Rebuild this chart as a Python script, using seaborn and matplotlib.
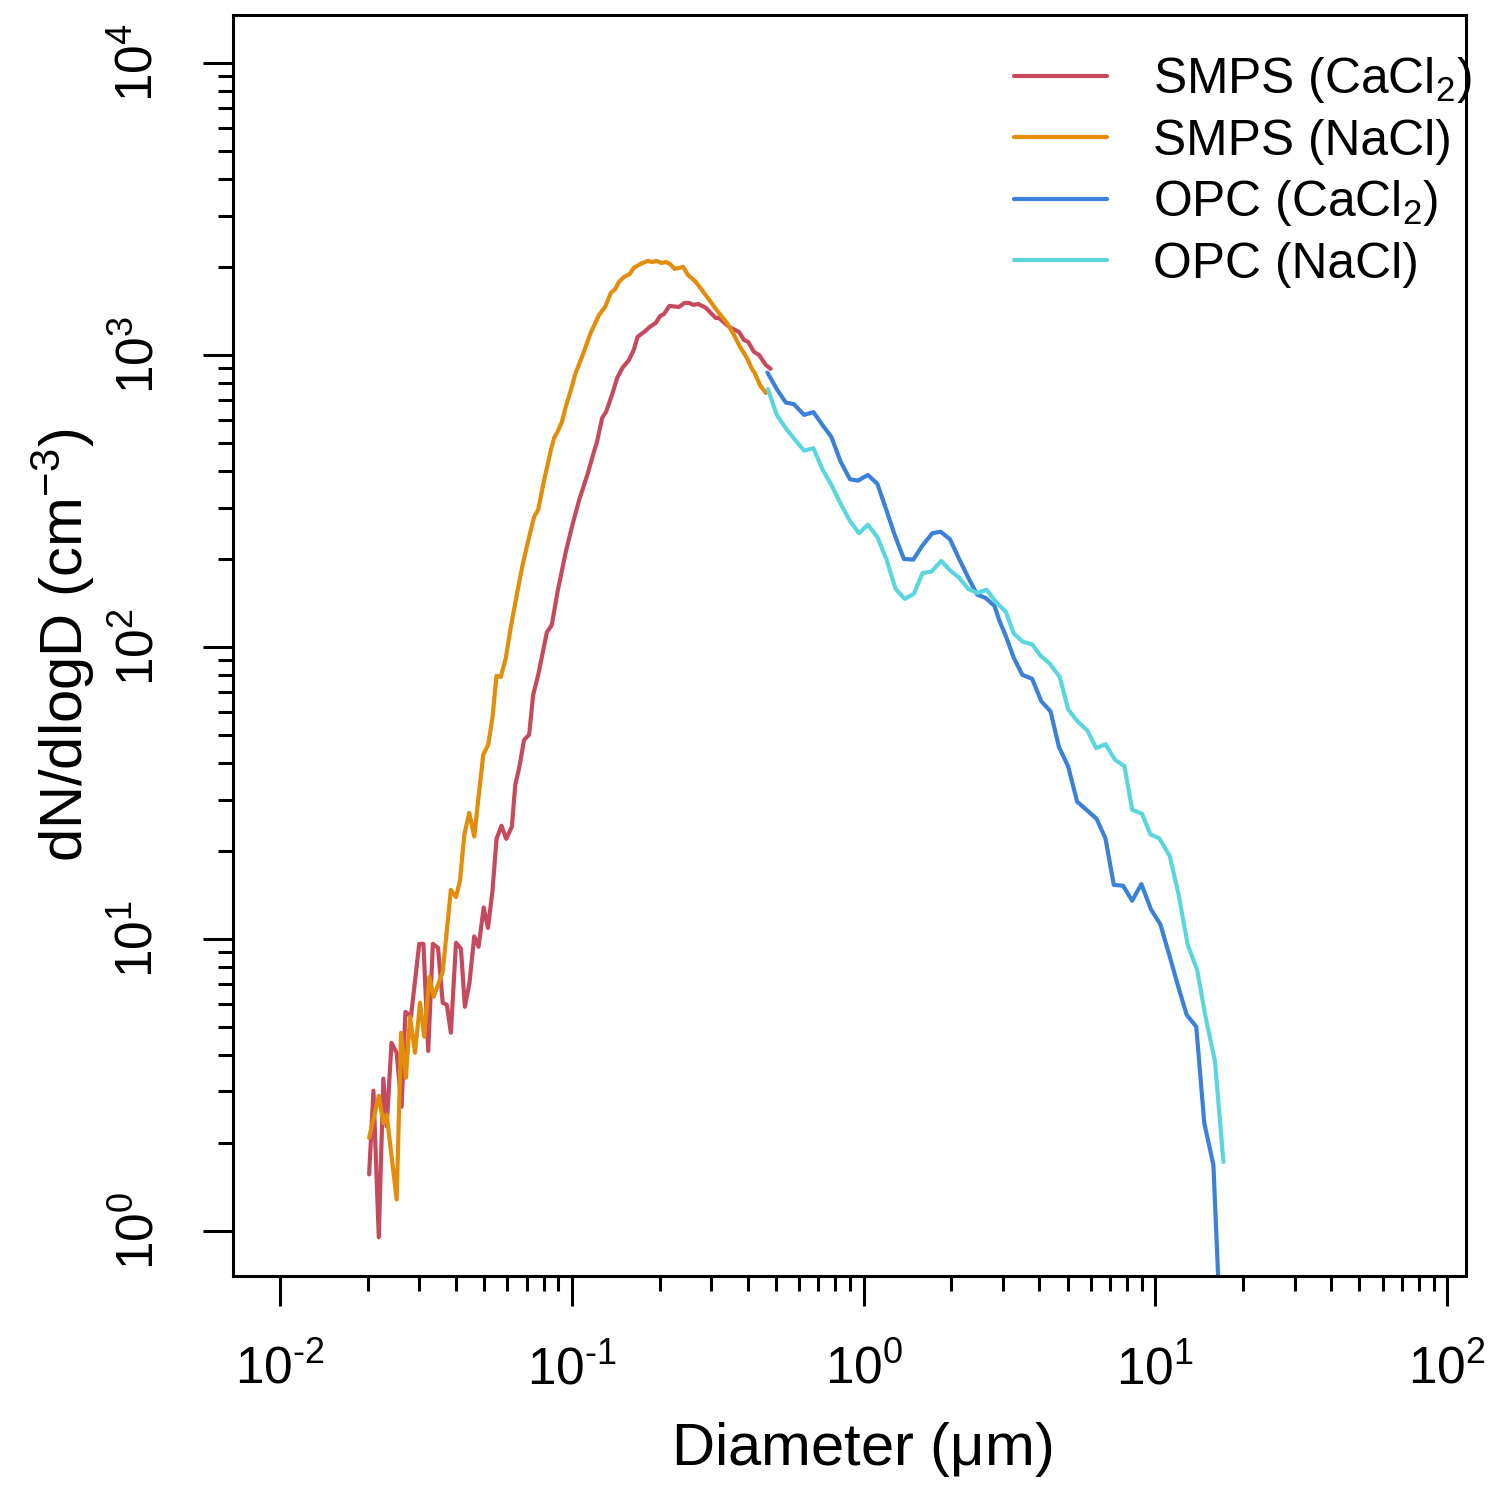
import numpy as np
import pandas as pd
import matplotlib
matplotlib.use("Agg")
import matplotlib.pyplot as plt
import seaborn as sns
from matplotlib.ticker import FixedLocator, NullFormatter

# ---------------- data (diameter in um, dN/dlogD in cm^-3) ----------------
smps_cacl2_d = [0.0202, 0.0209, 0.0218, 0.0226, 0.0232, 0.0241, 0.0251, 0.0261, 0.0269, 0.0281,
                0.0300, 0.0310, 0.0322, 0.0334, 0.0348, 0.0361, 0.0373, 0.0385, 0.0401, 0.0417,
                0.0430, 0.0446, 0.0463, 0.0479, 0.0499, 0.0516, 0.0535, 0.0552, 0.0574, 0.0596,
                0.0623, 0.0640, 0.0660, 0.0686, 0.0714, 0.0737, 0.0767, 0.0821, 0.0854, 0.0893,
                0.0953, 0.1005, 0.106, 0.113, 0.119, 0.122, 0.127, 0.131, 0.138, 0.143,
                0.149, 0.157, 0.163, 0.168, 0.177, 0.185, 0.194, 0.201, 0.207, 0.216,
                0.233, 0.243, 0.252, 0.261, 0.271, 0.288, 0.311, 0.319, 0.346, 0.374,
                0.389, 0.402, 0.421, 0.438, 0.462, 0.480]
smps_cacl2_n = [1.56, 3.02, 0.95, 3.32, 2.28, 4.40, 4.07, 2.66, 5.62, 5.42,
                9.61, 9.61, 4.13, 9.61, 9.31, 6.04, 5.94, 4.77, 9.69, 9.24,
                5.85, 7.07, 10.2, 9.39, 12.8, 10.9, 14.7, 22.0, 24.4, 22.0,
                24.2, 33.7, 38.5, 48.0, 50.0, 68.5, 80.2, 112, 119, 154,
                211, 262, 319, 388, 465, 504, 608, 638, 741, 834,
                902, 961, 1040, 1153, 1199, 1247, 1288, 1360, 1381, 1472,
                1459, 1507, 1507, 1483, 1495, 1449, 1339, 1339, 1247, 1199,
                1125, 1108, 1024, 1000, 924, 896]

smps_nacl_d = [0.0202, 0.0218, 0.0226, 0.0232, 0.0251, 0.0260, 0.0270, 0.0279, 0.0290, 0.0302,
               0.0312, 0.0325, 0.0336, 0.0361, 0.0385, 0.0401, 0.0414, 0.0428, 0.0445, 0.0463,
               0.0485, 0.0497, 0.0517, 0.0535, 0.0552, 0.0571, 0.0594, 0.0618, 0.0643, 0.0678,
               0.0714, 0.0743, 0.0767, 0.0804, 0.0848, 0.0870, 0.0893, 0.0925, 0.0953, 0.0993,
               0.103, 0.109, 0.116, 0.124, 0.130, 0.136, 0.141, 0.145, 0.151, 0.158,
               0.163, 0.172, 0.182, 0.189, 0.195, 0.203, 0.210, 0.217, 0.225, 0.241,
               0.250, 0.266, 0.284, 0.299, 0.319, 0.340, 0.358, 0.377, 0.398, 0.416,
               0.422, 0.441, 0.462]
smps_nacl_n = [2.08, 2.90, 2.34, 2.50, 1.28, 4.77, 3.34, 5.41, 4.07, 6.04,
               4.62, 7.41, 6.33, 7.71, 14.7, 13.9, 15.9, 22.7, 27.0, 22.4,
               34.2, 42.7, 46.2, 57.6, 79.6, 78.9, 91.7, 117, 145, 191,
               238, 279, 295, 373, 473, 520, 545, 590, 664, 759,
               867, 1000, 1189, 1371, 1459, 1630, 1683, 1778, 1849, 1894,
               1986, 2050, 2099, 2080, 2099, 2065, 2080, 2050, 1971, 2001,
               1879, 1778, 1630, 1520, 1393, 1288, 1180, 1065, 977, 888,
               874, 789, 741]

opc_cacl2_d = [0.468, 0.506, 0.541, 0.577, 0.625, 0.673, 0.722, 0.775, 0.834, 0.898,
               0.956, 1.034, 1.114, 1.19, 1.277, 1.374, 1.48, 1.589, 1.719, 1.835,
               1.975, 2.12, 2.294, 2.45, 2.62, 2.81, 2.91, 3.07, 3.27, 3.50,
               3.78, 4.06, 4.37, 4.67, 5.02, 5.39, 5.84, 6.28, 6.74, 7.20,
               7.75, 8.32, 8.95, 9.66, 10.4, 11.2, 12.0, 12.8, 13.8, 14.7,
               15.8, 17.0]
opc_cacl2_n = [870, 759, 687, 678, 623, 637, 576, 524, 431, 375,
               371, 388, 362, 299, 242, 200, 199, 222, 245, 248,
               234, 201, 171, 151, 147, 138, 124, 109, 91.7, 80.2,
               77.7, 65.2, 60.1, 45.4, 39.0, 29.5, 27.5, 25.8, 22.1, 15.3,
               15.2, 13.5, 15.4, 12.6, 11.2, 8.68, 6.80, 5.49, 5.00, 2.34,
               1.68, 0.30]

opc_nacl_d = [0.470, 0.504, 0.541, 0.580, 0.625, 0.673, 0.722, 0.775, 0.834, 0.898,
              0.964, 1.034, 1.114, 1.196, 1.287, 1.382, 1.487, 1.592, 1.706, 1.846,
              1.975, 2.12, 2.28, 2.45, 2.64, 2.83, 3.07, 3.27, 3.52, 3.78,
              4.04, 4.35, 4.70, 5.02, 5.42, 5.84, 6.26, 6.74, 7.26, 7.83,
              8.32, 9.00, 9.61, 10.3, 11.2, 12.0, 12.9, 13.9, 14.8, 16.0,
              17.1]
opc_nacl_n = [763, 623, 561, 514, 470, 479, 406, 359, 309, 270,
              245, 262, 238, 200, 158, 146, 152, 179, 181, 197,
              183, 173, 158, 153, 157, 143, 132, 111, 104, 102,
              93.2, 87.5, 78.8, 61.1, 55.4, 51.8, 45.0, 46.4, 41.1, 39.0,
              27.7, 26.8, 22.8, 22.1, 19.2, 14.2, 9.55, 7.81, 5.50, 3.80,
              1.72]

series_names = ["SMPS (CaCl2)", "SMPS (NaCl)", "OPC (CaCl2)", "OPC (NaCl)"]
legend_labels = [r"SMPS (CaCl$_2$)", "SMPS (NaCl)", r"OPC (CaCl$_2$)", "OPC (NaCl)"]
series_colors = ["#C64A5E", "#E38D0A", "#3B80D9", "#5CD6DE"]

x_decades = [-2, -1, 0, 1, 2]
y_decades = [0, 1, 2, 3, 4]

# ---------------- build table ----------------
frames = []
for name, d, n in zip(series_names,
                      [smps_cacl2_d, smps_nacl_d, opc_cacl2_d, opc_nacl_d],
                      [smps_cacl2_n, smps_nacl_n, opc_cacl2_n, opc_nacl_n]):
    frames.append(pd.DataFrame({"Diameter": d, "dNdlogD": n, "series": name}))
df = pd.concat(frames, ignore_index=True)

# ---------------- style ----------------
sns.set_style("white")
plt.rcParams["font.family"] = ["Liberation Sans", "DejaVu Sans"]
plt.rcParams["mathtext.fontset"] = "custom"
plt.rcParams["mathtext.rm"] = "Liberation Sans"
plt.rcParams["mathtext.it"] = "Liberation Sans:italic"
plt.rcParams["mathtext.bf"] = "Liberation Sans:bold"
plt.rcParams["mathtext.default"] = "regular"
plt.rcParams["text.color"] = "black"
plt.rcParams["axes.labelcolor"] = "black"
plt.rcParams["xtick.color"] = "black"
plt.rcParams["ytick.color"] = "black"

fig = plt.figure(figsize=(15.1, 14.91), dpi=100)
ax = fig.add_axes([0.1543, 0.1442, 0.8166, 0.8457])

sns.lineplot(data=df, x="Diameter", y="dNdlogD", hue="series", hue_order=series_names,
             palette=series_colors, estimator=None, sort=False, linewidth=3.0,
             legend=False, ax=ax)

ax.set_xscale("log")
ax.set_yscale("log")
ax.set_xlim(0.0069, 116)
ax.set_ylim(0.70, 14590)

for sp in ax.spines.values():
    sp.set_linewidth(2.2)
    sp.set_color("black")

def minor_positions(decades):
    return [m * 10.0 ** k for k in decades[:-1] for m in range(2, 10)]

ax.set_xticks([10.0 ** k for k in x_decades])
ax.set_xticklabels([r"$10^{\text{-}%d}$" % (-k) if k < 0 else r"$10^{%d}$" % k for k in x_decades])
ax.set_yticks([10.0 ** k for k in y_decades])
ax.set_yticklabels([r"$10^{%d}$" % k for k in y_decades], rotation=90, va="center")
ax.xaxis.set_minor_locator(FixedLocator(minor_positions(x_decades)))
ax.yaxis.set_minor_locator(FixedLocator(minor_positions(y_decades)))
ax.xaxis.set_minor_formatter(NullFormatter())
ax.yaxis.set_minor_formatter(NullFormatter())

ax.tick_params(which="major", direction="out", length=21.6, width=2.2,
               labelsize=37, color="black", labelcolor="black",
               bottom=True, left=True, top=False, right=False)
ax.tick_params(which="minor", direction="out", length=10.8, width=2.2,
               color="black", bottom=True, left=True, top=False, right=False)
ax.tick_params(axis="x", which="major", pad=28)
ax.tick_params(axis="y", which="major", pad=28)

ax.set_xlabel(r"Diameter ($\mu$m)", fontsize=43, labelpad=18)
ax.xaxis.label.set_x(0.51)
ax.set_ylabel(r"dN/dlogD (cm$^{-3}$)", fontsize=43, labelpad=12)

handles = ax.get_lines()[:4]
ax.legend(handles, legend_labels, loc="upper left", bbox_to_anchor=(0.633, 0.968),
          frameon=False, fontsize=35.8, handlelength=1.87, handletextpad=0.93,
          labelspacing=0.27, borderpad=0, borderaxespad=0)

fig.savefig("out.png", dpi=100, facecolor="white")
